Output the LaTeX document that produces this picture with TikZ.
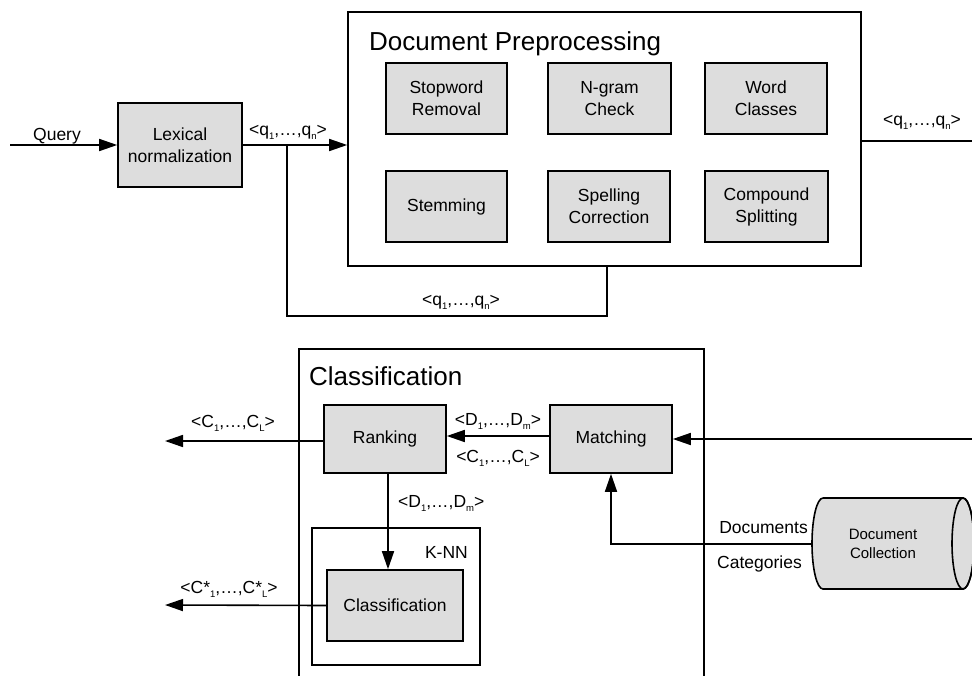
\documentclass[tikz,border=0pt]{standalone}
\usepackage{fontspec}
\setmainfont{Liberation Sans}
\usetikzlibrary{arrows.meta,positioning}
\definecolor{boxgray}{HTML}{DDDDDD}
\newcommand{\fsbody}{\fontsize{17.5}{22}\selectfont}
\newcommand{\fstitle}{\fontsize{26}{30}\selectfont}
\newcommand{\fssmall}{\fontsize{15}{19}\selectfont}
\newcommand{\lowix}[1]{\raisebox{-0.45ex}{\fontsize{9.5}{10}\selectfont #1}}
\newcommand{\qseq}{<q\lowix{1},\dots,q\lowix{n}>}
\newcommand{\dseq}{<D\lowix{1},\dots,D\lowix{m}>}
\newcommand{\cseq}{<C\lowix{1},\dots,C\lowix{L}>}
\newcommand{\csseq}{<C*\lowix{1},\dots,C*\lowix{L}>}
\tikzset{
  stage/.style={draw, fill=boxgray, line width=1.6pt, align=center, font=\fsbody, inner sep=0pt},
  frame/.style={draw, line width=1.6pt, inner sep=0pt},
  flow/.style={-{Triangle[length=18pt,width=12pt]}, line width=1.6pt},
  wire/.style={line width=1.6pt},
  lbl/.style={font=\fsbody, inner sep=0pt},
  ttl/.style={font=\fstitle, anchor=base west, inner sep=0pt},
}

\begin{document}
\begin{tikzpicture}[x=1pt,y=-1pt]
\useasboundingbox (0,0) rectangle (972,675);
\clip (0,0) rectangle (972,675);

% --- query in, lexical step ---
\coordinate (qin) at (10,145);
\node[stage, minimum width=124pt, minimum height=84pt] (lex) at (180,145) {Lexical\\normalization};
\node[lbl, anchor=base] (query) at (57,140) {Query};
\draw[flow] (qin) -- (lex.west);

% --- document preprocessing block ---
\node[frame, minimum width=513pt, minimum height=254pt] (prep) at (604.5,139) {};
\node[ttl] (prept) at (369,50) {Document Preprocessing};
\node[stage, minimum width=121pt, minimum height=71pt] (stopw) at (446.5,98.5) {Stopword\\Removal};
\node[stage, minimum width=123pt, minimum height=71pt] (ngram) at (609.5,98.5) {N-gram\\Check};
\node[stage, minimum width=122pt, minimum height=71pt] (wclass) at (766,98.5) {Word\\Classes};
\node[stage, minimum width=121pt, minimum height=71pt] (stemm) at (446.5,206.5) {Stemming};
\node[stage, minimum width=122pt, minimum height=71pt] (spell) at (609,206.5) {Spelling\\Correction};
\node[stage, minimum width=123pt, minimum height=71pt] (cmpd) at (766.5,206.5) {Compound\\Splitting};

\draw[flow] (lex.east) -- (lex.east -| prep.west);
\node[lbl, anchor=base] (qa) at (288,135) {\qseq};

% feedback around the block
\coordinate (br) at (287,145);
\coordinate (fb) at (607,316);
\draw[wire] (br) |- (fb) -- (fb |- prep.south);
\node[lbl, anchor=base] (qb) at (461,305) {\qseq};

% output to the right
\coordinate (qout) at (980,141);
\draw[wire] (prep.east |- qout) -- (qout);
\node[lbl, anchor=base] (qc) at (922,125) {\qseq};

% --- classification block ---
\node[frame, minimum width=405pt, minimum height=380pt, anchor=north west] (cls) at (298,348) {};
\node[ttl] (clst) at (309,385) {Classification};
\node[stage, minimum width=122pt, minimum height=68pt] (rank) at (385,439) {Ranking};
\node[stage, minimum width=122pt, minimum height=68pt] (match) at (611,439) {Matching};

\draw[flow] ([yshift=3pt]match.west) -- ([yshift=3pt]rank.east);
\node[lbl, anchor=base] (dm) at (498,425) {\dseq};
\node[lbl, anchor=base] (cl) at (498,462) {\cseq};

\coordinate (cout) at (165,441);
\draw[flow] ([yshift=-2pt]rank.west) -- (cout);
\node[lbl, anchor=base] (clout) at (233,427) {\cseq};

% k-nn part
\node[frame, minimum width=168pt, minimum height=137pt] (knn) at (396,596.5) {};
\node[lbl, anchor=base east] (knnt) at (468,558) {K-NN};
\node[stage, minimum width=136pt, minimum height=71pt] (kcls) at (395,605.5) {Classification};
\draw[flow] ([xshift=3pt]rank.south) -- ([xshift=3pt]rank.south |- kcls.north);
\node[lbl, anchor=base west] (dmk) at (398,507) {\dseq};

\coordinate (csout) at (165,605);
\draw[flow] (kcls.west) -- (csout);
\node[lbl, anchor=base] (clsout) at (229,593) {\csseq};

% input from the right
\coordinate (min) at (980,439);
\draw[flow] (min) -- (match.east);

% --- document collection (cylinder) ---
\fill[boxgray] (823,498) -- (963,498)
  arc[start angle=270, end angle=450, x radius=11, y radius=45.5]
  -- (823,589) arc[start angle=90, end angle=270, x radius=11, y radius=45.5] -- cycle;
\draw[wire] (823,498) -- (963,498)
  arc[start angle=270, end angle=450, x radius=11, y radius=45.5]
  -- (823,589) arc[start angle=90, end angle=270, x radius=11, y radius=45.5];
\draw[wire] (963,543.5) ellipse[x radius=11, y radius=45.5];
\node[font=\fssmall, align=center, inner sep=0pt] (dcol) at (883,544) {Document\\Collection};

\coordinate (dcw) at (812,544);
\draw[flow] (dcw) -| (match.south);
\node[lbl, anchor=base east] (docs) at (808,533) {Documents};
\node[lbl, anchor=base west] (cats) at (717,568) {Categories};

\end{tikzpicture}
\end{document}
